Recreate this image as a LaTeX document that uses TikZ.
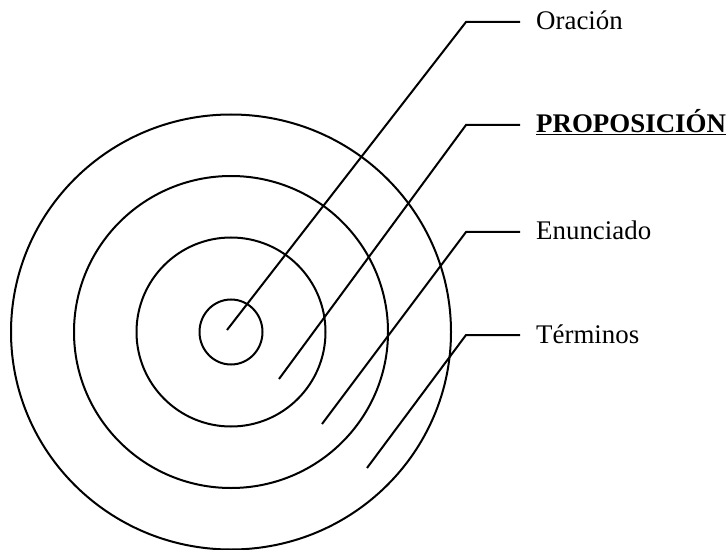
\documentclass[tikz,border=0pt]{standalone}
\usepackage{fontspec}
\setmainfont{Liberation Serif}
\usepackage{tikz}
\usetikzlibrary{positioning}
\tikzset{
  ring/.style={draw=black, line width=2bp},
  lead/.style={draw=black, line width=2bp, line join=miter},
  lbl/.style={font=\fontsize{27}{31}\selectfont, inner sep=0pt, anchor=base west},
}
\begin{document}
\begin{tikzpicture}[x=1bp, y=-1bp]
  \useasboundingbox (0,0) rectangle (727,550);
  % concentric rings
  \coordinate (c) at (231,332);
  \draw[ring] (c) circle[x radius=220, y radius=217.5];
  \draw[ring] (c) circle[x radius=157, y radius=156];
  \draw[ring] (c) circle[radius=94.5];
  \draw[ring] (c) circle[x radius=31.5, y radius=32.5];
  % leader lines and labels
  \foreach \i/\sx/\sy/\ky/\t in {1/227/330/22/Oración,
                                 2/279/379/125/{\textbf{\underline{PROPOSICIÓN}}},
                                 3/322/424/232/Enunciado,
                                 4/367/468/335/Términos} {
    \coordinate (p\i) at (\sx,\sy);
    \coordinate (k\i) at (466,\ky);
    \coordinate (e\i) at (520,\ky);
    \node[lbl] (l\i) at (536,\ky+8) {\t};
    \draw[lead] (p\i) -- (k\i) -- (e\i);
  }
\end{tikzpicture}
\end{document}
